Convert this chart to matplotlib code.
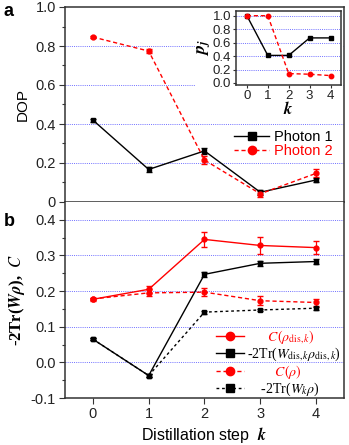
import matplotlib
matplotlib.use("Agg")
import matplotlib.pyplot as plt
from matplotlib.ticker import MultipleLocator, FixedLocator
from matplotlib.patches import Rectangle
from matplotlib.lines import Line2D

plt.rcParams['font.family'] = ['Liberation Sans', 'DejaVu Sans']
plt.rcParams['mathtext.fontset'] = 'stix'

steps = [0, 1, 2, 3, 4]

# Panel a: DOP
dop_photon1 = [0.42, 0.167, 0.262, 0.05, 0.113]
dop_photon1_err = [0.008, 0.012, 0.015, 0.012, 0.012]
dop_photon2 = [0.846, 0.774, 0.215, 0.042, 0.147]
dop_photon2_err = [0.006, 0.01, 0.02, 0.015, 0.02]

# Inset: p_j
pj_photon1 = [1.0, 0.41, 0.41, 0.67, 0.67]
pj_photon2 = [1.0, 1.0, 0.14, 0.13, 0.11]

# Panel b
c_dis = [0.177, 0.205, 0.345, 0.328, 0.322]
c_dis_err = [0.004, 0.01, 0.02, 0.025, 0.018]
w_dis = [0.065, -0.037, 0.247, 0.278, 0.283]
w_dis_err = [0.003, 0.004, 0.007, 0.007, 0.006]
c_rho = [0.178, 0.195, 0.197, 0.173, 0.168]
c_rho_err = [0.004, 0.01, 0.012, 0.012, 0.01]
w_rho = [0.065, -0.037, 0.141, 0.147, 0.152]
w_rho_err = [0.003, 0.004, 0.004, 0.004, 0.004]

W, H = 349, 445
fig = plt.figure(figsize=(W / 100, H / 100), dpi=100)

def fx(px):
    return px / W

def fy(py):
    return 1 - py / H

L, R = 65, 344
ax_a = fig.add_axes([fx(L), fy(202), fx(R - L), fy(7) - fy(202)])
ax_b = fig.add_axes([fx(L), fy(398), fx(R - L), fy(202) - fy(398)])

grid_color = '#7070ff'
grid_ls = (0, (1, 1.2))
spine_color = '#333333'
dash = (0, (3, 2))
for ax in (ax_a, ax_b):
    ax.set_xlim(-0.5, 4.5)
    for s in ax.spines.values():
        s.set_linewidth(1.1)
        s.set_color(spine_color)
    ax.tick_params(axis='both', which='major', direction='out', length=4, width=0.8,
                   labelsize=10.5, colors=spine_color, pad=2.5)
    ax.tick_params(axis='both', which='minor', direction='out', length=2, width=0.8,
                   colors=spine_color)
    ax.tick_params(labelcolor='#222222')
    ax.set_axisbelow(True)
    ax.set_xticks(steps)

ms = 3.5
# Panel a
ax_a.set_ylim(0, 1.0)
ax_a.set_yticks([0, 0.2, 0.4, 0.6, 0.8, 1.0])
ax_a.set_yticklabels(['0', '0.2', '0.4', '0.6', '0.8', '1.0'])
ax_a.yaxis.set_minor_locator(MultipleLocator(0.1))
ax_a.tick_params(labelbottom=False)
for yv in [0.2, 0.4, 0.6, 0.8]:
    ax_a.axhline(yv, color=grid_color, lw=0.7, ls=grid_ls, zorder=0.5)
ax_a.add_patch(Rectangle((fx(195), fy(113)), fx(R - 1 - 195), fy(8) - fy(113),
                         transform=fig.transFigure, facecolor='white', edgecolor='none', zorder=1))
ax_a.errorbar(steps, dop_photon1, yerr=dop_photon1_err, color='black', lw=1.0,
              marker='s', ms=ms, capsize=2, elinewidth=0.9, zorder=3)
ax_a.errorbar(steps, dop_photon2, yerr=dop_photon2_err, color='red', lw=1.0, ls=dash,
              marker='o', ms=ms, capsize=2, elinewidth=0.9, zorder=3)
ax_a.set_ylabel('DOP', fontsize=11, labelpad=4)
pa1 = Line2D([], [], color='black', lw=1.0, marker='s', ms=6)
pa2 = Line2D([], [], color='red', lw=1.0, ls=dash, marker='o', ms=6)
leg_a = ax_a.legend([pa1, pa2], ['Photon 1', 'Photon 2'], loc='upper left',
                    bbox_to_anchor=((232 - L) / (R - L), (202 - 128) / 195),
                    frameon=True, facecolor='white', edgecolor='none', framealpha=1,
                    fontsize=10.5, handlelength=2.4, handletextpad=0.3, labelspacing=0.0,
                    borderpad=0.15, borderaxespad=0)
for t, c in zip(leg_a.get_texts(), ['black', 'red']):
    t.set_color(c)
fig.text(fx(4), fy(16), 'a', fontsize=13, fontweight='bold')

# Inset
ax_in = fig.add_axes([fx(236), fy(85), fx(341 - 236), fy(11) - fy(85)])
ax_in.set_xlim(-0.52, 4.5)
ax_in.set_ylim(-0.03, 1.07)
for s in ax_in.spines.values():
    s.set_linewidth(1.1)
    s.set_color(spine_color)
ax_in.set_xticks(steps)
ax_in.set_yticks([0, 0.2, 0.4, 0.6, 0.8, 1.0])
ax_in.set_yticklabels(['0.0', '0.2', '0.4', '0.6', '0.8', '1.0'])
ax_in.tick_params(direction='out', length=2.5, width=0.8, labelsize=9.5, pad=1,
                  colors=spine_color, labelcolor='#222222')
ax_in.set_axisbelow(True)
for yv in [0.2, 0.4, 0.6, 0.8, 1.0]:
    ax_in.axhline(yv, color=grid_color, lw=0.7, ls=grid_ls, zorder=0.5)
ax_in.plot(steps, pj_photon1, color='black', lw=1.0, marker='s', ms=3.2, zorder=3)
ax_in.plot(steps, pj_photon2, color='red', lw=1.0, ls=dash, marker='o', ms=3.2, zorder=3)
ax_in.set_ylabel(r'$\mathbfit{p}_{\mathbfit{j}}$', fontsize=13, labelpad=0)
ax_in.set_xlabel(r'$\mathbfit{k}$', fontsize=12, labelpad=-1)

# Panel b
ax_b.set_ylim(-0.1, 0.45)
ax_b.set_yticks([-0.1, 0.0, 0.1, 0.2, 0.3, 0.4])
ax_b.set_yticklabels(['-0.1', '0.0', '0.1', '0.2', '0.3', '0.4'])
ax_b.yaxis.set_minor_locator(FixedLocator([-0.05, 0.05, 0.15, 0.25, 0.35]))
for yv in [0.0, 0.1, 0.2, 0.3, 0.4]:
    ax_b.axhline(yv, color=grid_color, lw=0.7, ls=grid_ls, zorder=0.5)
ax_b.tick_params(axis='x', top=False)
ax_b.spines['top'].set_visible(False)

ax_b.errorbar(steps, c_dis, yerr=c_dis_err, color='red', lw=1.0, marker='o', ms=ms,
              capsize=2, elinewidth=0.9, zorder=3)
ax_b.errorbar(steps, w_dis, yerr=w_dis_err, color='black', lw=1.0, marker='s', ms=ms,
              capsize=2, elinewidth=0.9, zorder=3)
ax_b.errorbar(steps, c_rho, yerr=c_rho_err, color='red', lw=1.0, ls=dash, marker='o',
              ms=ms, capsize=2, elinewidth=0.9, zorder=3)
ax_b.errorbar(steps, w_rho, yerr=w_rho_err, color='black', lw=1.0, ls=(0, (2, 2)), marker='s',
              ms=ms, capsize=2, elinewidth=0.9, zorder=3)

h1 = Line2D([], [], color='red', lw=1.0, marker='o', ms=6)
h2 = Line2D([], [], color='black', lw=1.0, marker='s', ms=6)
h3 = Line2D([], [], color='red', lw=1.0, ls=dash, marker='o', ms=6)
h4 = Line2D([], [], color='black', lw=1.0, ls=(0, (2, 2)), marker='s', ms=6)

serif = ['Liberation Serif', 'DejaVu Serif']
leg_kw = dict(frameon=False, handlelength=2.0, handletextpad=0.25,
              labelspacing=0.0, borderpad=0.0, borderaxespad=0,
              prop={'family': serif, 'size': 10})
leg_b1 = ax_b.legend([h1, h2], ['      ' + r'$C(\rho_{\mathrm{dis},k})$',
                                r'-2Tr($W_{\mathrm{dis},k}\rho_{\mathrm{dis},k}$)'],
                     loc='upper left', bbox_to_anchor=((216 - L) / (R - L), (398 - 328) / 196),
                     **leg_kw)
ax_b.add_artist(leg_b1)
leg_b2 = ax_b.legend([h3, h4], ['        ' + r'$C(\rho)$', '    ' + r'-2Tr($W_k\rho$)'],
                     loc='upper left', bbox_to_anchor=((216 - L) / (R - L), (398 - 363) / 196),
                     **leg_kw)
for leg in (leg_b1, leg_b2):
    for t, c in zip(leg.get_texts(), ['red', 'black']):
        t.set_color(c)

ax_b.set_ylabel(r'-2Tr($\mathbfit{W\rho}$),  $C$', fontsize=12, fontweight='bold',
                family=serif, labelpad=3)
ax_b.set_xlabel(r'Distillation step  $\mathbfit{k}$', fontsize=11.5, labelpad=3)
fig.text(fx(4), fy(226), 'b', fontsize=13, fontweight='bold')

fig.savefig('out.png', dpi=100)
